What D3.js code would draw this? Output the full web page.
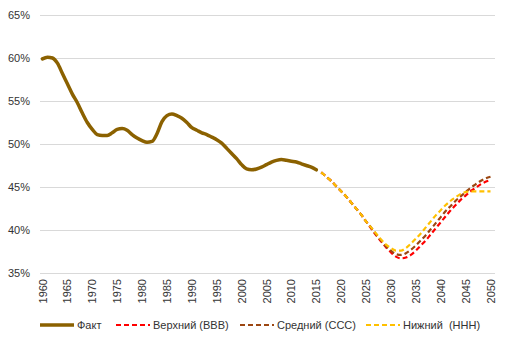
<!DOCTYPE html>
<html lang="ru">
<head>
<meta charset="UTF-8">
<script src="https://d3js.org/d3.v7.min.js"></script>
<title>Доля</title>
<style>
    body { margin: 0; background: #fff; }
    svg { font-family: "Liberation Sans", Arial, sans-serif; }
    .grid line { stroke: #d9d9d9; stroke-width: 1px; }
    .tick-label { fill: #333; font-size: 11px; }
    .legend text { fill: #333; font-size: 11px; }
</style>
</head>
<body>
<svg width="512" height="345"></svg>
<script>
// факт 1960-2015
const factYears = d3.range(1960, 2016);
const factValues = [59.9, 60.1, 60.0, 59.4, 58.2, 57.0, 55.8, 54.8, 53.6, 52.5,
    51.7, 51.1, 51.0, 51.0, 51.3, 51.7, 51.8, 51.6, 51.1, 50.7,
    50.4, 50.2, 50.3, 51.2, 52.6, 53.3, 53.5, 53.3, 53.0, 52.5,
    51.9, 51.6, 51.3, 51.1, 50.8, 50.5, 50.1, 49.5, 48.9, 48.3,
    47.6, 47.1, 47.0, 47.1, 47.3, 47.6, 47.9, 48.1, 48.2, 48.1,
    48.0, 47.9, 47.7, 47.5, 47.3, 47.0];

// прогнозы 2016-2050
const fcYears = d3.range(2016, 2051);
const upper = [46.7, 46.2, 45.7, 45.1, 44.5, 43.9, 43.2, 42.5, 41.8, 41.0,
    40.2, 39.4, 38.7, 38.0, 37.4, 36.9, 36.7, 36.8, 37.1, 37.6,
    38.2, 38.8, 39.5, 40.2, 40.9, 41.6, 42.3, 42.9, 43.5, 44.0,
    44.5, 44.9, 45.3, 45.6, 45.8];
const middle = [46.7, 46.2, 45.7, 45.1, 44.5, 43.9, 43.2, 42.5, 41.8, 41.0,
    40.3, 39.5, 38.8, 38.1, 37.6, 37.2, 37.1, 37.3, 37.7, 38.2,
    38.8, 39.4, 40.1, 40.8, 41.5, 42.2, 42.8, 43.4, 43.9, 44.4,
    44.9, 45.3, 45.7, 46.0, 46.2];
const lower = [46.7, 46.2, 45.7, 45.1, 44.5, 43.9, 43.2, 42.5, 41.8, 41.0,
    40.3, 39.6, 38.9, 38.3, 37.9, 37.6, 37.6, 37.9, 38.4, 39.0,
    39.6, 40.3, 41.0, 41.7, 42.3, 42.9, 43.4, 43.8, 44.2, 44.4,
    44.5, 44.5, 44.5, 44.5, 44.5];

const yTicks = [35, 40, 45, 50, 55, 60, 65];
const xTicks = d3.range(1960, 2051, 5);

const svg = d3.select("svg");
const x = d3.scaleLinear().domain([1960, 2050]).range([42.5, 490.5]);
const y = d3.scaleLinear().domain([35, 65]).range([273, 15]);

// сетка
svg.append("g").attr("class", "grid")
    .selectAll("line").data(yTicks).enter().append("line")
    .attr("x1", 40).attr("x2", 495)
    .attr("y1", d => Math.round(y(d)) + 0.5).attr("y2", d => Math.round(y(d)) + 0.5);

svg.append("g").selectAll("text").data(yTicks).enter().append("text")
    .attr("class", "tick-label")
    .attr("x", 30).attr("y", d => y(d) + 4)
    .attr("text-anchor", "end")
    .text(d => d + "%");

svg.append("g").selectAll("text").data(xTicks).enter().append("text")
    .attr("class", "tick-label")
    .attr("transform", d => `translate(${x(d) + 4},279) rotate(-90)`)
    .attr("text-anchor", "end")
    .text(d => d);

const line = d3.line().x(d => x(d[0])).y(d => y(d[1])).curve(d3.curveMonotoneX);

const series = [
    {name: "Верхний (ВВВ)", color: "#ff0000", vals: upper},
    {name: "Средний (ССС)", color: "#9c4712", vals: middle},
    {name: "Нижний  (ННН)", color: "#ffc000", vals: lower}
];

series.forEach(s => {
    svg.append("path")
        .attr("d", line(fcYears.map((yr, i) => [yr, s.vals[i]])))
        .attr("fill", "none").attr("stroke", s.color)
        .attr("stroke-width", 2.2).attr("stroke-dasharray", "5,3");
});

svg.append("path")
    .attr("d", line(factYears.map((yr, i) => [yr, factValues[i]])))
    .attr("fill", "none").attr("stroke", "#8b6100")
    .attr("stroke-width", 3.5).attr("stroke-linecap", "round");

// легенда
const legend = [
    {name: "Факт", color: "#8b6100", dash: null, w: 3.5, x: 40},
    {name: "Верхний (ВВВ)", color: "#ff0000", dash: "5,3", w: 2.2, x: 116},
    {name: "Средний (ССС)", color: "#9c4712", dash: "5,3", w: 2.2, x: 240},
    {name: "Нижний  (ННН)", color: "#ffc000", dash: "5,3", w: 2.2, x: 366}
];
const lg = svg.append("g").attr("class", "legend")
    .selectAll("g").data(legend).enter().append("g")
    .attr("transform", d => `translate(${d.x},325)`);
lg.append("line").attr("x1", 0).attr("x2", 34).attr("y1", 0).attr("y2", 0)
    .attr("stroke", d => d.color).attr("stroke-width", d => d.w)
    .attr("stroke-dasharray", d => d.dash);
lg.append("text").attr("x", 37).attr("y", 4).text(d => d.name)
    .attr("xml:space", "preserve").style("white-space", "pre");
</script>
</body>
</html>
